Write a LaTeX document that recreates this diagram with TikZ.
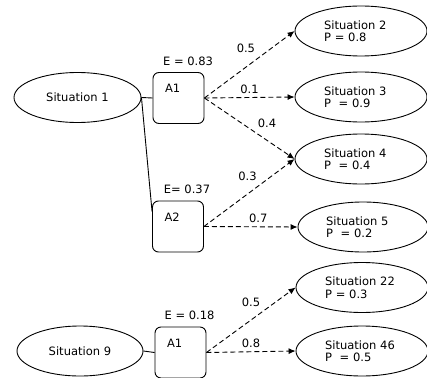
\documentclass[tikz,border=0pt]{standalone}
\usepackage{fontspec}
\setmainfont{DejaVu Sans}
\usetikzlibrary{arrows.meta, positioning, shapes.geometric}

\begin{document}
\begin{tikzpicture}[
  x=1pt, y=-1pt,
  font=\fontsize{11.5}{12.5}\selectfont,
  situation/.style={draw, ellipse, line width=0.9pt, minimum width=132pt, minimum height=50pt, inner sep=0pt,
    text width=74pt, align=left},
  action/.style={draw, rectangle, rounded corners=6pt, line width=0.9pt, minimum width=51pt, minimum height=51pt,
    inner ysep=0pt, inner xsep=12pt, text width=27pt, align=left, text height=20pt, text depth=31pt},
  link/.style={line width=0.9pt},
  choice/.style={line width=0.9pt, dash pattern=on 5pt off 3pt, -{Latex[length=7pt, width=6pt]}}
]
  \useasboundingbox (0,0) rectangle (427,377);

  \node[situation, minimum width=127pt, align=center] (s1) at (77.5,97.5) {Situation 1};
  \node[action, label={[xshift=9.5pt, yshift=3pt]above:E = 0.83}] (a1) at (178.5,98) {A1};
  \node[action, label={[xshift=9pt, yshift=3pt]above:E= 0.37}] (a2) at (178,226.5) {A2};

  \node[situation] (s2) at (361,31) {Situation 2\\P = 0.8};
  \node[situation] (s3) at (361,97) {Situation 3\\P\ \ = 0.9};
  \node[situation] (s4) at (361,159) {Situation 4\\P\ \ = 0.4};
  \node[situation, minimum width=130pt] (s5) at (363,227) {Situation 5\\P\ \ = 0.2};

  \node[situation, minimum width=126pt, align=center] (s9) at (80,351) {Situation 9};
  \node[action, label={[xshift=9pt, yshift=3pt]above:E = 0.18}] (a9) at (180.5,352.5) {A1};
  \node[situation] (s22) at (362,287.5) {Situation 22\\P = 0.3};
  \node[situation] (s46) at (362,351) {Situation 46\\P\ \ = 0.5};

  \draw[link] (s1.east) -- (a1.west);
  \draw[link] (s1.east) -- (a2.150);
  \draw[link] (s9.east) -- (a9.west);

  \draw[choice] (a1.east) -- node[pos=0.46, above=11pt] {0.5} (s2.west);
  \draw[choice] (a1.east) -- node[midway, above] {0.1} (s3.west);
  \draw[choice] (a1.east) -- node[pos=0.55, above right] {0.4} (s4.west);
  \draw[choice] (a2.east) -- node[pos=0.48, above=10pt] {0.3} (s4.west);
  \draw[choice] (a2.east) -- node[pos=0.58, above] {0.7} (s5.west);

  \draw[choice] (a9.east) -- node[pos=0.5, above=10pt] {0.5} (s22.west);
  \draw[choice] (a9.east) -- node[pos=0.5, above] {0.8} (s46.west);
\end{tikzpicture}
\end{document}
